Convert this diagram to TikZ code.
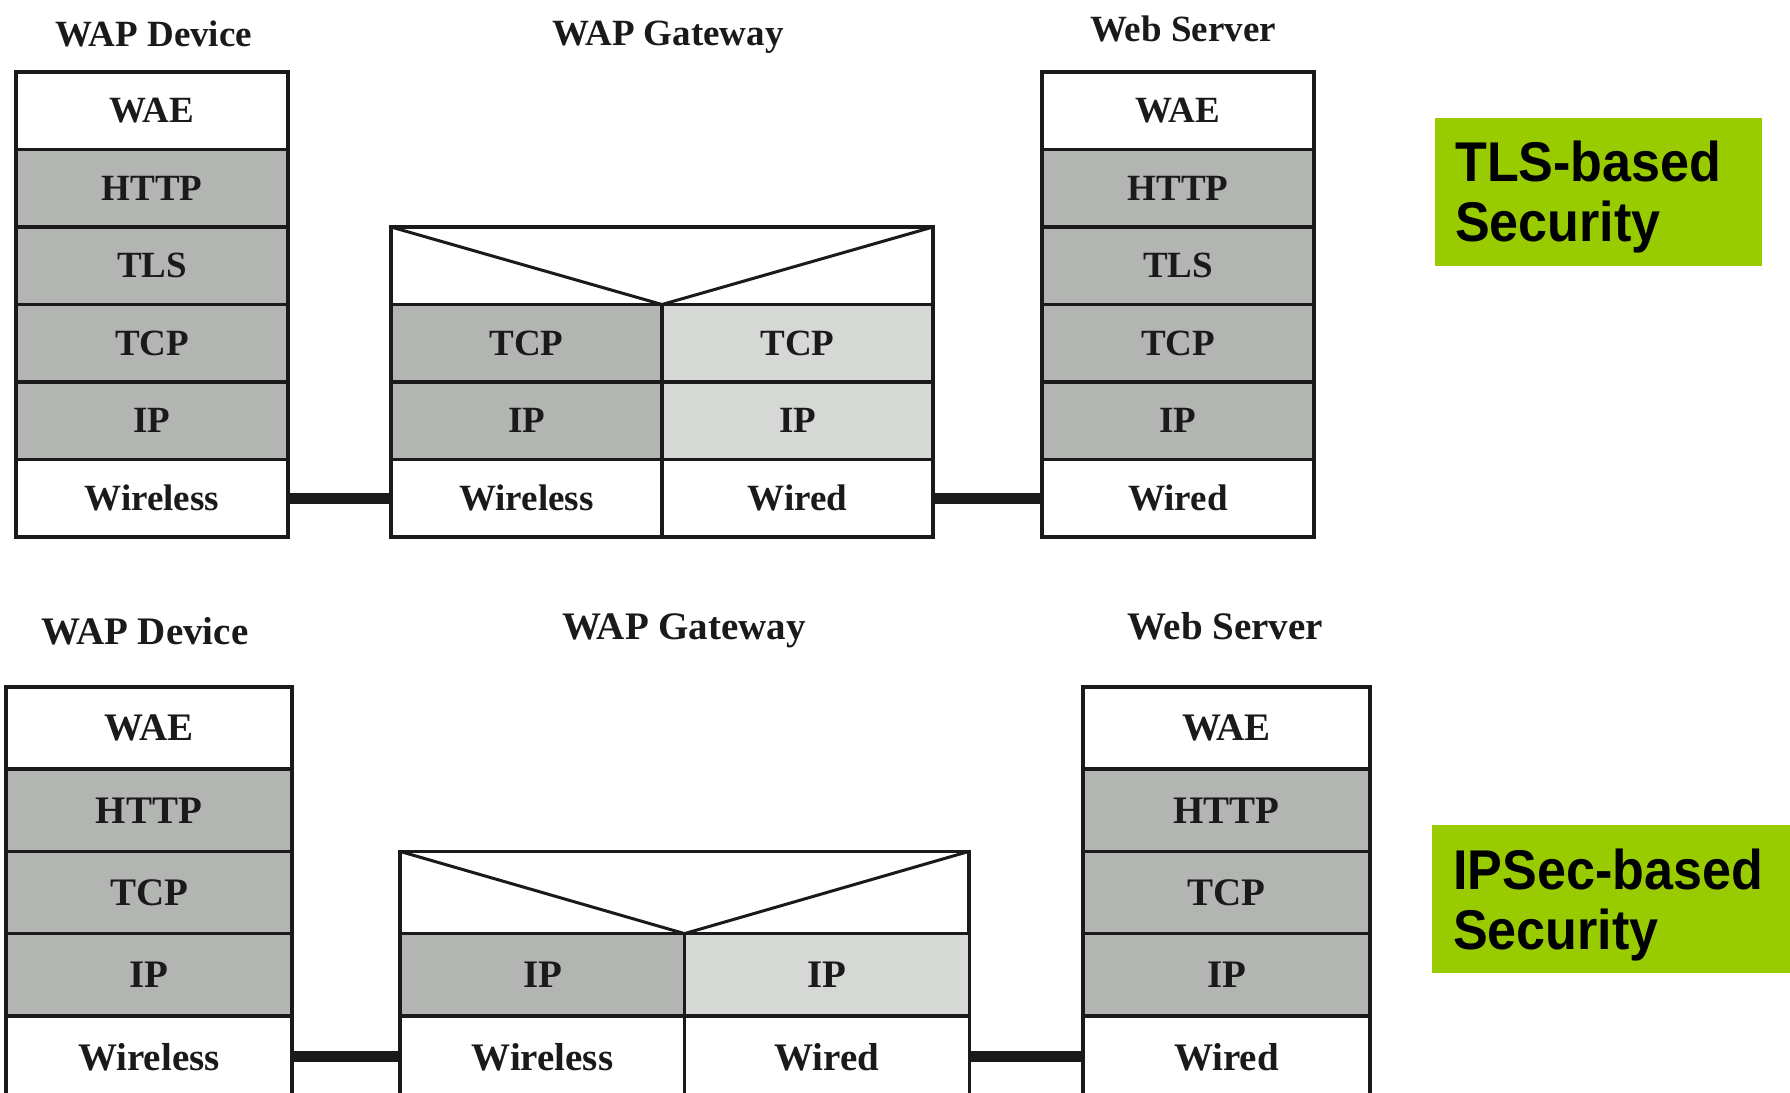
\documentclass[tikz,border=0pt]{standalone}
\usepackage{fontspec}
\setmainfont{Liberation Serif}
\newfontfamily\tagfont[FakeStretch=0.93]{Liberation Sans Bold}
\newcommand\upperfont{\fontsize{37}{41}\selectfont\bfseries}
\newcommand\lowerfont{\fontsize{39}{43}\selectfont\bfseries}
\newcommand\badgefont{\tagfont\fontsize{56}{60}\selectfont}
\definecolor{ink}{RGB}{26,26,26}
\definecolor{cellgray}{RGB}{179,181,179}
\definecolor{cellpale}{RGB}{214,216,214}
\definecolor{tagGreen}{RGB}{153,204,0}
\begin{document}
\begin{tikzpicture}[x=1pt,y=-1pt,
  cell/.style={draw=ink, line width=3.5pt, inner sep=0pt, outer sep=0pt, text=ink},
  upper/.style={cell, minimum height=77.5pt, font=\upperfont},
  lower/.style={cell, minimum height=82.2pt, font=\lowerfont},
  dark/.style={fill=cellgray},
  pale/.style={fill=cellpale},
  plain/.style={fill=white},
  link/.style={draw=ink, line width=11pt},
  vee/.style={draw=ink, line width=3pt, line join=miter},
  heading/.style={inner sep=0pt, text=ink},
  badge/.style={fill=tagGreen, inner sep=0pt, outer sep=0pt},
  badgetext/.style={inner sep=0pt, align=left, font=\badgefont, text=black, anchor=base west}]
\useasboundingbox (0,0) rectangle (1790,1092);
\clip (0,0) rectangle (1790,1092);
\fill[white] (0,0) rectangle (1790,1092);

% ---------- TLS-based stack ----------
\node[heading, font=\upperfont] (thdev) at (154,34) {WAP Device};
\node[heading, font=\upperfont] (thgw)  at (668,37) {WAP Gateway};
\node[heading, font=\upperfont] (thsrv) at (1183,29) {Web Server};

% device
\begin{scope}[every node/.append style={upper, minimum width=272pt}]
  \node[plain] (tdwae)  at (152,110.75) {WAE};
  \node[dark]  (tdhttp) at (152,188.25) {HTTP};
  \node[dark]  (tdtls)  at (152,265.75) {TLS};
  \node[dark]  (tdtcp)  at (152,343.25) {TCP};
  \node[dark]  (tdip)   at (152,420.75) {IP};
  \node[plain] (tdwl)   at (152,498.25) {Wireless};
\end{scope}

% gateway
\node[upper, plain, minimum width=542pt] (tgtop) at (662,265.75) {};
\begin{scope}[every node/.append style={upper, minimum width=271pt}]
  \node[dark]  (tgtcpl) at (526.5,343.25) {TCP};
  \node[pale]  (tgtcpr) at (797.5,343.25) {TCP};
  \node[dark]  (tgipl)  at (526.5,420.75) {IP};
  \node[pale]  (tgipr)  at (797.5,420.75) {IP};
  \node[plain] (tgwl)   at (526.5,498.25) {Wireless};
  \node[plain] (tgwd)   at (797.5,498.25) {Wired};
\end{scope}
\draw[vee] (tgtop.north west) -- (tgtop.south) -- (tgtop.north east);

% server
\begin{scope}[every node/.append style={upper, minimum width=272pt}]
  \node[plain] (tswae)  at (1178,110.75) {WAE};
  \node[dark]  (tshttp) at (1178,188.25) {HTTP};
  \node[dark]  (tstls)  at (1178,265.75) {TLS};
  \node[dark]  (tstcp)  at (1178,343.25) {TCP};
  \node[dark]  (tsip)   at (1178,420.75) {IP};
  \node[plain] (tswd)   at (1178,498.25) {Wired};
\end{scope}

\draw[link] (tdwl.east) -- (tgwl.west);
\draw[link] (tgwd.east) -- (tswd.west);

\node[badge, minimum width=327pt, minimum height=148pt] (tlsbox) at (1598.5,192) {};
\node[badgetext] (tlstext) at (1455,241) {TLS-based\\Security};

% ---------- IPSec-based stack ----------
\node[heading, font=\lowerfont] (bhdev) at (145,631) {WAP Device};
\node[heading, font=\lowerfont] (bhgw)  at (684,631) {WAP Gateway};
\node[heading, font=\lowerfont] (bhsrv) at (1225,626) {Web Server};

% device
\begin{scope}[every node/.append style={lower, minimum width=286pt}]
  \node[plain] (bdwae)  at (149,728.1) {WAE};
  \node[dark]  (bdhttp) at (149,810.3) {HTTP};
  \node[dark]  (bdtcp)  at (149,892.5) {TCP};
  \node[dark]  (bdip)   at (149,974.7) {IP};
  \node[plain] (bdwl)   at (149,1056.9) {Wireless};
\end{scope}

% gateway
\node[lower, plain, minimum width=569pt] (bgtop) at (684.5,892.5) {};
\begin{scope}[every node/.append style={lower, minimum width=285pt}]
  \node[dark]  (bgipl) at (542.5,974.7) {IP};
  \node[pale]  (bgipr) at (827,974.7) {IP};
  \node[plain] (bgwl)  at (542.5,1056.9) {Wireless};
  \node[plain] (bgwd)  at (827,1056.9) {Wired};
\end{scope}
\draw[vee] (bgtop.north west) -- (bgtop.south) -- (bgtop.north east);

% server
\begin{scope}[every node/.append style={lower, minimum width=287pt}]
  \node[plain] (bswae)  at (1226.5,728.1) {WAE};
  \node[dark]  (bshttp) at (1226.5,810.3) {HTTP};
  \node[dark]  (bstcp)  at (1226.5,892.5) {TCP};
  \node[dark]  (bsip)   at (1226.5,974.7) {IP};
  \node[plain] (bswd)   at (1226.5,1056.9) {Wired};
\end{scope}

\draw[link] (bdwl.east) -- (bgwl.west);
\draw[link] (bgwd.east) -- (bswd.west);

\node[badge, minimum width=368pt, minimum height=148pt] (ipsbox) at (1616,899) {};
\node[badgetext] (ipstext) at (1453,949) {IPSec-based\\Security};
\end{tikzpicture}
\end{document}
